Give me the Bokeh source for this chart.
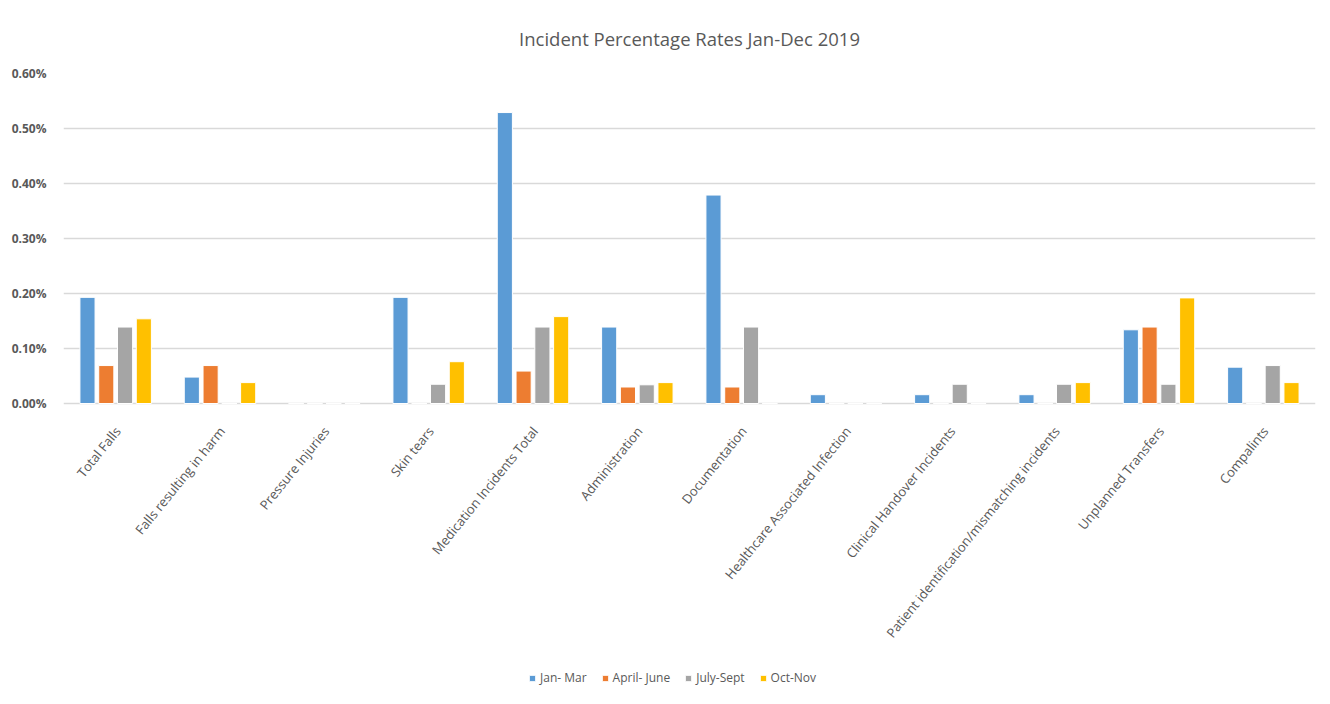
import math
from bokeh.plotting import figure
from bokeh.models import ColumnDataSource, Range1d, FactorRange, PrintfTickFormatter, Legend, LegendItem, FixedTicker
from bokeh.core.properties import value
from bokeh.transform import dodge
from bokeh.embed import file_html
from bokeh.resources import INLINE

categories = ["Total Falls", "Falls resulting in harm", "Pressure Injuries", "Skin tears",
              "Medication Incidents Total", "Administration", "Documentation",
              "Healthcare Associated Infection", "Clinical Handover Incidents",
              "Patient identification/mismatching incidents", "Unplanned Transfers", "Compalints"]
series_names = ["Jan- Mar", "April- June", "July-Sept", "Oct-Nov"]
jan_mar = [0.193, 0.048, 0.0, 0.193, 0.529, 0.139, 0.379, 0.016, 0.016, 0.016, 0.134, 0.066]
apr_jun = [0.069, 0.069, 0.0, 0.0, 0.059, 0.030, 0.030, 0.0, 0.0, 0.0, 0.139, 0.0]
jul_sep = [0.139, 0.0, 0.0, 0.035, 0.139, 0.034, 0.139, 0.0, 0.035, 0.035, 0.035, 0.069]
oct_nov = [0.154, 0.038, 0.0, 0.076, 0.158, 0.038, 0.0, 0.0, 0.0, 0.038, 0.192, 0.038]
y_ticks = [0.0, 0.1, 0.2, 0.3, 0.4, 0.5, 0.6]
colors = ["#5B9BD5", "#ED7D31", "#A5A5A5", "#FFC000"]

y_max = 0.6
plot_px = 330          # pixels between 0.00% and 0.60%
frame_px = 623         # frame extends below the zero line to hold labels and legend
y_min = -y_max * (frame_px - plot_px) / plot_px

src = ColumnDataSource(dict(cat=categories, s0=jan_mar, s1=apr_jun, s2=jul_sep, s3=oct_nov,
                            zero=[0.0] * len(categories)))

p = figure(x_range=FactorRange(*categories), y_range=Range1d(y_min, y_max),
           frame_width=1252, frame_height=frame_px, output_backend="svg", toolbar_location=None,
           min_border_left=63, min_border_right=7, min_border_top=73, min_border_bottom=0,
           title="Incident Percentage Rates Jan-Dec 2019")
p.title.align = "center"
p.title.text_font = "Open Sans"
p.title.text_font_size = "18.5px"
p.title.text_font_style = "normal"
p.title.text_color = "#595959"
p.title.standoff = 45
p.outline_line_color = None
p.x_range.range_padding = 0
p.x_range.factor_padding = 0

offsets = [-0.27, -0.09, 0.09, 0.27]
renderers = []
for i, key in enumerate(["s0", "s1", "s2", "s3"]):
    r = p.vbar(x=dodge("cat", offsets[i], range=p.x_range), top=key, width=0.145, source=src,
               fill_color=colors[i], line_color="white", line_width=1)
    renderers.append(r)

# category labels, rotated, hanging below the zero line
p.text(x="cat", y="zero", text="cat", source=src, angle=0.89,
       text_align="right", text_baseline="middle", x_offset=2, y_offset=25,
       text_font=value("Open Sans"), text_font_size="13px", text_color="#595959")

p.xgrid.grid_line_color = None
p.ygrid.ticker = FixedTicker(ticks=y_ticks)
p.ygrid.grid_line_color = "#d9d9d9"
p.ygrid.grid_line_width = 1.5
p.xaxis.visible = False

p.yaxis.ticker = FixedTicker(ticks=y_ticks)
p.yaxis.formatter = PrintfTickFormatter(format="%.2f%%")
p.yaxis.axis_line_color = None
p.yaxis.major_tick_line_color = None
p.yaxis.minor_tick_line_color = None
p.yaxis.major_label_text_font = "Open Sans"
p.yaxis.major_label_text_font_size = "12px"
p.yaxis.major_label_text_font_style = "bold"
p.yaxis.major_label_text_color = "#595959"
p.yaxis.major_label_standoff = 11

legend = Legend(items=[LegendItem(label=series_names[i], renderers=[renderers[i]]) for i in range(4)],
                orientation="horizontal", location=(465, 10))
legend.label_text_font = "Open Sans"
legend.label_text_font_size = "12px"
legend.label_text_color = "#595959"
legend.glyph_width = 8
legend.glyph_height = 8
legend.spacing = 14
legend.label_standoff = 4
legend.padding = 0
legend.margin = 0
legend.border_line_color = None
legend.background_fill_alpha = 0
p.add_layout(legend, "center")

open("out.html", "w").write(file_html(p, INLINE))
